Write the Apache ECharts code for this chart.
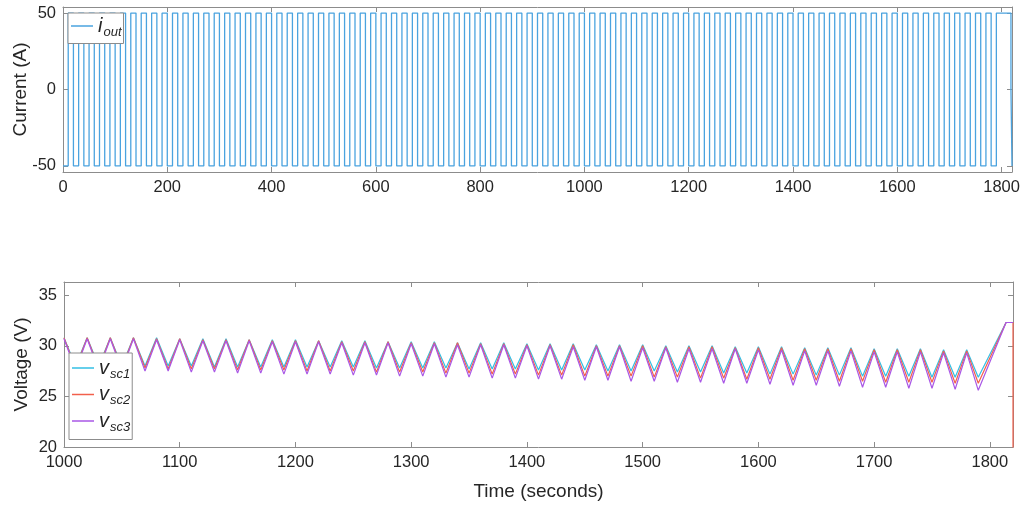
<!DOCTYPE html>
<html>
<head>
<meta charset="utf-8">
<title>Current and voltage</title>
<script src="https://cdn.jsdelivr.net/npm/echarts@6/dist/echarts.min.js"></script>
<style>
  html, body { margin: 0; padding: 0; background: #fff; }
  #chart { width: 1024px; height: 505px; }
</style>
</head>
<body>
<div id="chart"></div>
<script>
// upper plot: switching instants (s) and the current level held from each instant (A)
const iTime = [
  0,10,20,30,40,50,60,70,80,90,100,110,120,130,140,150,160,170,180,190,
  200,210,220,230,240,250,260,270,280,290,300,310,320,330,340,350,360,370,380,390,
  400,410,420,430,440,450,460,470,480,490,500,510,520,530,540,550,560,570,580,590,
  600,610,620,630,640,650,660,670,680,690,700,710,720,730,740,750,760,770,780,790,
  800,810,820,830,840,850,860,870,880,890,900,910,920,930,940,950,960,970,980,990,
  1000,1010,1020,1030,1040,1050,1060,1070,1080,1090,1100,1110,1120,1130,1140,1150,1160,1170,1180,1190,
  1200,1210,1220,1230,1240,1250,1260,1270,1280,1290,1300,1310,1320,1330,1340,1350,1360,1370,1380,1390,
  1400,1410,1420,1430,1440,1450,1460,1470,1480,1490,1500,1510,1520,1530,1540,1550,1560,1570,1580,1590,
  1600,1610,1620,1630,1640,1650,1660,1670,1680,1690,1700,1710,1720,1730,1740,1750,1760,1770,1780,1790,
  1818,1820
];
const iOut = [
  -50,50,-50,50,-50,50,-50,50,-50,50,-50,50,-50,50,-50,50,-50,50,-50,50,
  -50,50,-50,50,-50,50,-50,50,-50,50,-50,50,-50,50,-50,50,-50,50,-50,50,
  -50,50,-50,50,-50,50,-50,50,-50,50,-50,50,-50,50,-50,50,-50,50,-50,50,
  -50,50,-50,50,-50,50,-50,50,-50,50,-50,50,-50,50,-50,50,-50,50,-50,50,
  -50,50,-50,50,-50,50,-50,50,-50,50,-50,50,-50,50,-50,50,-50,50,-50,50,
  -50,50,-50,50,-50,50,-50,50,-50,50,-50,50,-50,50,-50,50,-50,50,-50,50,
  -50,50,-50,50,-50,50,-50,50,-50,50,-50,50,-50,50,-50,50,-50,50,-50,50,
  -50,50,-50,50,-50,50,-50,50,-50,50,-50,50,-50,50,-50,50,-50,50,-50,50,
  -50,50,-50,50,-50,50,-50,50,-50,50,-50,50,-50,50,-50,50,-50,50,-50,50,
  0,-50
];

// lower plot: time (s) and the three supercapacitor voltages (V)
const vTime = [
  1000,1010,1020,1030,1040,1050,1060,1070,1080,1090,
  1100,1110,1120,1130,1140,1150,1160,1170,1180,1190,
  1200,1210,1220,1230,1240,1250,1260,1270,1280,1290,
  1300,1310,1320,1330,1340,1350,1360,1370,1380,1390,
  1400,1410,1420,1430,1440,1450,1460,1470,1480,1490,
  1500,1510,1520,1530,1540,1550,1560,1570,1580,1590,
  1600,1610,1620,1630,1640,1650,1660,1670,1680,1690,
  1700,1710,1720,1730,1740,1750,1760,1770,1780,1790,
  1814,1820,1820
];
const vSc1 = [
  30.8,28.0,30.8,28.0,30.8,28.0,30.8,28.0,30.8,28.0,
  30.7,28.0,30.7,27.9,30.7,27.9,30.6,27.9,30.6,27.9,
  30.6,27.9,30.5,27.9,30.5,27.9,30.5,27.8,30.4,27.8,
  30.4,27.8,30.4,27.8,30.3,27.7,30.3,27.7,30.3,27.7,
  30.2,27.6,30.2,27.6,30.2,27.6,30.1,27.5,30.1,27.5,
  30.1,27.5,30.0,27.4,30.0,27.4,30.0,27.3,29.9,27.3,
  29.9,27.2,29.9,27.2,29.8,27.1,29.8,27.1,29.8,27.0,
  29.7,27.0,29.7,27.0,29.7,26.9,29.6,26.9,29.6,26.9,
  32.3,32.3,null
];
const vSc2 = [
  30.8,27.8,30.8,27.8,30.8,27.8,30.8,27.8,30.7,27.7,
  30.7,27.7,30.6,27.7,30.6,27.6,30.6,27.6,30.5,27.6,
  30.5,27.5,30.5,27.5,30.4,27.5,30.4,27.4,30.4,27.4,
  30.3,27.4,30.3,27.3,30.3,27.3,30.2,27.2,30.2,27.2,
  30.1,27.1,30.1,27.1,30.1,27.0,30.0,27.0,30.0,27.0,
  30.0,26.9,29.9,26.9,29.9,26.8,29.9,26.8,29.8,26.7,
  29.8,26.7,29.8,26.6,29.7,26.6,29.7,26.5,29.7,26.5,
  29.6,26.4,29.6,26.4,29.6,26.4,29.5,26.3,29.5,26.3,
  32.3,32.3,0
];
const vSc3 = [
  30.7,27.6,30.7,27.6,30.7,27.6,30.7,27.5,30.6,27.5,
  30.6,27.4,30.5,27.4,30.5,27.3,30.5,27.3,30.4,27.2,
  30.4,27.2,30.4,27.2,30.3,27.1,30.3,27.1,30.3,27.0,
  30.2,27.0,30.2,26.9,30.1,26.9,30.1,26.8,30.1,26.8,
  30.0,26.7,30.0,26.7,29.9,26.6,29.9,26.6,29.9,26.5,
  29.8,26.5,29.8,26.4,29.7,26.4,29.7,26.3,29.7,26.3,
  29.6,26.2,29.6,26.1,29.5,26.1,29.5,26.0,29.5,25.9,
  29.4,25.9,29.4,25.8,29.4,25.8,29.3,25.7,29.3,25.6,
  32.3,32.3,null
];

// tick labels
const topXTicks = [0, 200, 400, 600, 800, 1000, 1200, 1400, 1600, 1800];
const topYTicks = [-50, 0, 50];
const botXTicks = [1000, 1100, 1200, 1300, 1400, 1500, 1600, 1700, 1800];
const botYTicks = [20, 25, 30, 35];

const FONT = 'Liberation Sans';
const TXT = '#262626';
const BOX = '#8c8c8c';

function pairs(xs, ys) {
  return xs.map((x, k) => [x, ys[k]]);
}

// one side of the MATLAB-like box: inward ticks, labels only on bottom/left
function boxAxis(gridIndex, position, min, max, ticks, withLabels) {
  return {
    type: 'value',
    gridIndex: gridIndex,
    position: position,
    min: min,
    max: max,
    axisLine: { show: true, onZero: false, lineStyle: { color: BOX, width: 1 } },
    axisTick: { show: true, inside: true, length: 5, customValues: ticks, lineStyle: { color: BOX } },
    axisLabel: {
      show: withLabels,
      customValues: ticks,
      formatter: v => String(v),
      color: TXT,
      fontFamily: FONT,
      fontSize: 16.5,
      margin: 7
    },
    splitLine: { show: false }
  };
}

function axisName(axis, text, gap) {
  axis.name = text;
  axis.nameLocation = 'middle';
  axis.nameGap = gap;
  axis.nameMoveOverlap = false;
  axis.nameTextStyle = { color: TXT, fontFamily: FONT, fontSize: 19 };
  return axis;
}

const legendRich = {
  v: { fontFamily: FONT, fontSize: 20, fontStyle: 'italic', color: TXT },
  s: { fontFamily: FONT, fontSize: 13, fontStyle: 'italic', color: TXT, padding: [12, 0, 0, 1] }
};
const legendNames = {
  'i_out': '{v|i}{s|out}',
  'v_sc1': '{v|v}{s|sc1}',
  'v_sc2': '{v|v}{s|sc2}',
  'v_sc3': '{v|v}{s|sc3}'
};

const chart = echarts.init(document.getElementById('chart'));

const option = {
  animation: false,
  backgroundColor: '#fff',
  grid: [
    { left: 63, right: 12, top: 7, height: 165 },
    { left: 64, right: 11, top: 282, height: 165 }
  ],
  legend: [
    {
      data: ['i_out'],
      left: 68, top: 13,
      orient: 'vertical',
      icon: 'rect', itemWidth: 22, itemHeight: 1.5, itemGap: 6,
      backgroundColor: '#fff', borderColor: BOX, borderWidth: 1, borderRadius: 0,
      padding: [3, 2, 5, 3],
      formatter: name => legendNames[name],
      textStyle: { rich: legendRich }
    },
    {
      data: ['v_sc1', 'v_sc2', 'v_sc3'],
      left: 69, top: 353,
      orient: 'vertical',
      icon: 'rect', itemWidth: 22, itemHeight: 1.5, itemGap: 4,
      backgroundColor: '#fff', borderColor: BOX, borderWidth: 1, borderRadius: 0,
      padding: [5, 2, 6, 3],
      formatter: name => legendNames[name],
      textStyle: { rich: legendRich }
    }
  ],
  xAxis: [
    boxAxis(0, 'bottom', 0, 1820, topXTicks, true),
    boxAxis(0, 'top', 0, 1820, topXTicks, false),
    axisName(boxAxis(1, 'bottom', 1000, 1820, botXTicks, true), 'Time (seconds)', 35),
    boxAxis(1, 'top', 1000, 1820, botXTicks, false)
  ],
  yAxis: [
    axisName(boxAxis(0, 'left', -54, 54, topYTicks, true), 'Current (A)', 33),
    boxAxis(0, 'right', -54, 54, topYTicks, false),
    axisName(boxAxis(1, 'left', 20, 36.3, botYTicks, true), 'Voltage (V)', 33),
    boxAxis(1, 'right', 20, 36.3, botYTicks, false)
  ],
  series: [
    {
      name: 'i_out', type: 'line', step: 'end',
      xAxisIndex: 0, yAxisIndex: 0,
      data: pairs(iTime, iOut),
      showSymbol: false,
      lineStyle: { color: '#4aa3df', width: 1.3 },
      itemStyle: { color: '#4aa3df' }
    },
    {
      name: 'v_sc1', type: 'line',
      xAxisIndex: 2, yAxisIndex: 2,
      data: pairs(vTime, vSc1),
      showSymbol: false,
      lineStyle: { color: '#33bfe4', width: 1.2 },
      itemStyle: { color: '#33bfe4' }
    },
    {
      name: 'v_sc2', type: 'line',
      xAxisIndex: 2, yAxisIndex: 2,
      data: pairs(vTime, vSc2),
      showSymbol: false,
      lineStyle: { color: '#f2604c', width: 1.2 },
      itemStyle: { color: '#f2604c' }
    },
    {
      name: 'v_sc3', type: 'line',
      xAxisIndex: 2, yAxisIndex: 2,
      data: pairs(vTime, vSc3),
      showSymbol: false,
      lineStyle: { color: '#a957e6', width: 1.2 },
      itemStyle: { color: '#a957e6' }
    }
  ]
};

chart.setOption(option);
</script>
</body>
</html>
